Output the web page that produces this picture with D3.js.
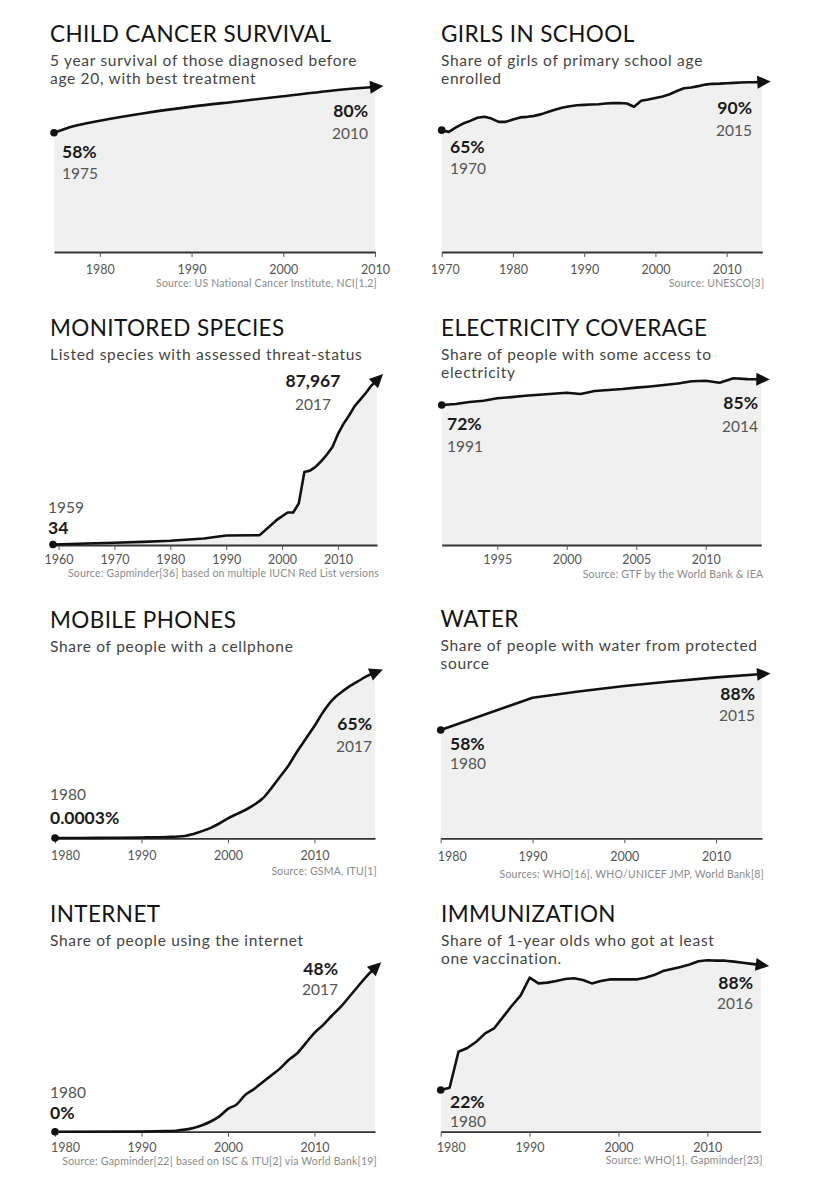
<!DOCTYPE html>
<html><head><meta charset="utf-8">
<script src="https://cdn.jsdelivr.net/npm/d3@7"></script>
<style>
body{margin:0;background:#fff}
svg{display:block}
text{font-family:Lato,"Open Sans",sans-serif}
</style>
</head><body>
<svg id="chart" width="823" height="1200"></svg>
<script>
// ---------------- DATA ----------------
const cancerYears  = [1975, 1977, 1980, 1985, 1990, 1995, 2000, 2005, 2010];
const cancerValues = [58, 61, 63.8, 67.5, 70.5, 73, 75.5, 78, 80];

const girlsYears  = [1970,1971,1972,1973,1974,1975,1976,1977,1978,1979,1980,1981,1982,1983,1984,1985,1986,1987,1988,1989,1990,1991,1992,1993,1994,1995,1996,1997,1998,1999,2000,2001,2002,2003,2004,2005,2006,2007,2008,2009,2010,2011,2012,2013,2014,2015];
const girlsValues = [65,64.1,66.4,68.4,69.8,71.4,71.9,71.0,69.3,69.3,70.5,71.6,71.9,72.4,73.3,74.5,75.7,76.7,77.4,77.9,78.1,78.3,78.4,78.8,79.0,79.1,78.8,77.1,80.2,80.9,81.7,82.4,83.6,85.3,86.7,87.1,87.8,88.6,89.0,89.1,89.3,89.5,89.7,89.8,89.8,90];

const speciesYears  = [1959,1965,1970,1975,1980,1986,1990,1996,1999,2001,2002,2003,2004,2005,2006,2007,2008,2009,2010,2011,2012,2013,2014,2015,2016,2017];
const speciesValues = [34,500,900,1400,2000,3200,4800,5000,13000,17100,17100,22000,38800,39500,41500,44500,48000,52000,59000,64500,69000,74000,77500,81000,85000,87967];

const electricityYears  = [1991,1992,1993,1994,1995,1996,1997,1998,1999,2000,2001,2002,2003,2004,2005,2006,2007,2008,2009,2010,2011,2012,2013,2014];
const electricityValues = [72,72.5,73.5,74.2,75.4,76.0,76.7,77.2,77.7,78.2,77.6,79.1,79.6,80.1,80.8,81.4,82.1,82.9,84.0,84.3,83.3,85.5,85.1,85];

const mobileYears  = [1980,1985,1990,1993,1995,1996,1997,1998,1999,2000,2001,2002,2003,2004,2005,2006,2007,2008,2009,2010,2011,2012,2013,2014,2015,2016,2017];
const mobileValues = [0.0003,0.05,0.2,0.4,0.8,1.6,2.7,4.0,5.7,7.7,9.4,11.0,13.0,15.5,19.5,24,28.5,34,39,44,49.5,54,57,59.5,61.5,63.5,65];

const waterYears  = [1980,1990,1995,2000,2005,2010,2015];
const waterValues = [58,75.3,78.6,81.6,84,86.2,88];

const internetYears  = [1980,1990,1993,1994,1995,1996,1997,1998,1999,2000,2001,2002,2003,2004,2005,2006,2007,2008,2009,2010,2011,2012,2013,2014,2015,2016,2017];
const internetValues = [0,0.05,0.2,0.3,0.6,1.1,1.9,3.0,4.5,6.7,8.0,10.8,12.5,14.5,16.5,18.5,21,23,26,29,31.3,34,36.5,39.5,42.5,45.5,48];

const immunYears  = [1980,1981,1982,1983,1984,1985,1986,1987,1988,1989,1990,1991,1992,1993,1994,1995,1996,1997,1998,1999,2000,2001,2002,2003,2004,2005,2006,2007,2008,2009,2010,2011,2012,2013,2014,2015,2016];
const immunValues = [22,23.2,42.2,44.2,47.5,51.9,54.5,60.5,66.5,72,81.3,78.3,78.7,79.6,80.6,81,80.1,78.3,79.6,80.4,80.4,80.4,80.4,81.3,82.7,84.8,85.9,87,88.3,90,90.5,90.3,90.3,89.8,89.2,88.6,88];

const tickYears1 = [1980,1990,2000,2010];
const tickYears2 = [1970,1980,1990,2000,2010];
const tickYears3 = [1960,1970,1980,1990,2000,2010];
const tickYears4 = [1995,2000,2005,2010];

const titles = ["CHILD CANCER SURVIVAL","GIRLS IN SCHOOL","MONITORED SPECIES","ELECTRICITY COVERAGE","MOBILE PHONES","WATER","INTERNET","IMMUNIZATION"];
const subtitles = [
  ["5 year survival of those diagnosed before","age 20, with best treatment"],
  ["Share of girls of primary school age","enrolled"],
  ["Listed species with assessed threat-status"],
  ["Share of people with some access to","electricity"],
  ["Share of people with a cellphone"],
  ["Share of people with water from protected","source"],
  ["Share of people using the internet"],
  ["Share of 1-year olds who got at least","one vaccination."]
];
const sources = [
  "Source: US National Cancer Institute, NCI[1,2]",
  "Source: UNESCO[3]",
  "Source: Gapminder[36] based on multiple IUCN Red List versions",
  "Source: GTF by the World Bank & IEA",
  "Source: GSMA, ITU[1]",
  "Sources: WHO[16], WHO/UNICEF JMP, World Bank[8]",
  "Source: Gapminder[22] based on ISC & ITU[2] via World Bank[19]",
  "Source: WHO[1], Gapminder[23]"
];

// ---------------- LAYOUT ----------------
const pct = v => d3.format(".4~f")(v) + "%";
const num = v => d3.format(",")(v);

const panels = [
  {years:cancerYears, values:cancerValues, ticks:tickYears1, fmt:pct, yMax:100,
   left:50, titleY:42, xr:[54,375], yr:[254,45], axisY:252, tickDy:22, firstShift:0, sourceY:287, curve:d3.curveMonotoneX,
   start:{x:62, vy:158, yy:179}, end:{x:368, vy:117, yy:139, anchor:"end"}},
  {years:girlsYears, values:girlsValues, ticks:tickYears2, fmt:pct, yMax:100,
   left:441, titleY:42, xr:[441.7,762.3], yr:[255.6,62.6], axisY:252, tickDy:22, firstShift:3, sourceY:287, curve:d3.curveLinear,
   start:{x:450, vy:153, yy:174}, end:{x:752, vy:114, yy:136, anchor:"end"}},
  {years:speciesYears, values:speciesValues, ticks:tickYears3, fmt:num, yMax:87967,
   left:50, titleY:336, xr:[53,377], yr:[544.5,380], axisY:545, tickDy:18.5, firstShift:5.5, sourceY:577, curve:d3.curveLinear,
   start:{x:48, vy:534, yy:512.5}, end:{x:313, vy:387, yy:410, anchor:"middle"}},
  {years:electricityYears, values:electricityValues, ticks:tickYears4, fmt:pct, yMax:100,
   left:441, titleY:336, xr:[441.7,761.3], yr:[547.6,349.6], axisY:545, tickDy:18.5, firstShift:0, sourceY:578, curve:d3.curveLinear,
   start:{x:447, vy:430, yy:452}, end:{x:758, vy:409, yy:432, anchor:"end"}},
  {years:mobileYears, values:mobileValues, ticks:tickYears1, fmt:pct, yMax:100,
   left:50, titleY:628, xr:[55,375], yr:[838,583.5], axisY:838.3, tickDy:22, firstShift:10, sourceY:875, curve:d3.curveMonotoneX,
   start:{x:50, vy:824, yy:800}, end:{x:372, vy:730, yy:752, anchor:"end"}},
  {years:waterYears, values:waterValues, ticks:tickYears1, fmt:pct, yMax:100,
   left:440.5, titleY:627, xr:[440.7,762], yr:[838.3,651.6], axisY:838.3, tickDy:23, firstShift:11, sourceY:878, curve:d3.curveLinear,
   start:{x:450, vy:750, yy:769}, end:{x:755, vy:700, yy:721, anchor:"end"}},
  {years:internetYears, values:internetValues, ticks:tickYears1, fmt:pct, yMax:100,
   left:50, titleY:922, xr:[55,375], yr:[1131.7,790.7], axisY:1131.7, tickDy:20, firstShift:10, sourceY:1165, curve:d3.curveMonotoneX,
   start:{x:50, vy:1119, yy:1097.5}, end:{x:338, vy:975, yy:995, anchor:"end"}},
  {years:immunYears, values:immunValues, ticks:tickYears1, fmt:pct, yMax:100,
   left:441, titleY:922, xr:[440.7,760.7], yr:[1131.7,942.3], axisY:1131.7, tickDy:20, firstShift:10, sourceY:1163.5, curve:d3.curveLinear,
   start:{x:450, vy:1108, yy:1127}, end:{x:753, vy:989, yy:1009, anchor:"end"}}
];

// ---------------- DRAW ----------------
const svg = d3.select("#chart");
svg.append("rect").attr("width",823).attr("height",1200).attr("fill","#fff");

const defs = svg.append("defs");
defs.append("marker")
  .attr("id","arrow").attr("markerUnits","userSpaceOnUse")
  .attr("viewBox","-6 -7 16 14").attr("refX",0).attr("refY",0)
  .attr("markerWidth",16).attr("markerHeight",14).attr("orient","auto")
  .append("path").attr("d","M-5,-6.5L8.5,0L-5,6.5Z").attr("fill","#111");

panels.forEach((p, i) => {
  const g = svg.append("g");
  const data = p.years.map((y, k) => ({year:y, value:p.values[k]}));
  const x = d3.scaleLinear().domain([p.years[0], p.years[p.years.length-1]]).range(p.xr);
  const y = d3.scaleLinear().domain([0, p.yMax]).range(p.yr);

  // title & subtitle
  g.append("text").attr("x", p.left).attr("y", p.titleY)
    .attr("font-size", 22.5).attr("fill", "#141414").attr("letter-spacing", 0.4).text(titles[i]);
  subtitles[i].forEach((s, k) => {
    g.append("text").attr("x", p.left).attr("y", p.titleY + 23.5 + k*18.7)
      .attr("font-size", 15.5).attr("letter-spacing", 0.7).attr("fill", "#444").text(s);
  });

  // area
  const area = d3.area().x(d => x(d.year)).y0(p.axisY).y1(d => y(d.value)).curve(p.curve);
  g.append("path").datum(data).attr("d", area).attr("fill", "#f0f0f0");

  // axis
  const axis = d3.axisBottom(x).tickValues(p.ticks).tickSize(5).tickSizeOuter(0).tickFormat(d3.format("d"));
  const ag = g.append("g").attr("transform", `translate(0,${p.axisY})`).call(axis);
  ag.select(".domain").attr("stroke", "#333").attr("stroke-width", 1.8);
  ag.selectAll(".tick line").attr("stroke", "#555").attr("stroke-width", 1);
  ag.selectAll(".tick text").attr("y", p.tickDy).attr("dy", 0)
    .attr("font-family", "Lato, sans-serif").attr("font-size", 12.5).attr("fill", "#555")
    .attr("dx", d => d === p.years[0] ? p.firstShift : 0);

  // line
  const line = d3.line().x(d => x(d.year)).y(d => y(d.value)).curve(p.curve);
  g.append("path").datum(data).attr("d", line).attr("fill", "none")
    .attr("stroke", "#111").attr("stroke-width", 2.6).attr("stroke-linejoin", "round")
    .attr("marker-end", "url(#arrow)");

  // start dot
  const first = data[0], last = data[data.length-1];
  g.append("circle").attr("cx", x(first.year)).attr("cy", y(first.value)).attr("r", 3.8).attr("fill", "#111");

  // labels
  g.append("text").attr("x", p.start.x).attr("y", p.start.vy).attr("font-size", 17.5).attr("font-weight", 700)
    .attr("fill", "#1a1a1a").text(p.fmt(first.value));
  g.append("text").attr("x", p.start.x).attr("y", p.start.yy).attr("font-size", 15.5)
    .attr("fill", "#555").text(first.year);
  g.append("text").attr("x", p.end.x).attr("y", p.end.vy).attr("font-size", 17.5).attr("font-weight", 700)
    .attr("text-anchor", p.end.anchor).attr("fill", "#1a1a1a").text(p.fmt(last.value));
  g.append("text").attr("x", p.end.x).attr("y", p.end.yy).attr("font-size", 15.5)
    .attr("text-anchor", p.end.anchor).attr("fill", "#555").text(last.year);

  // source
  g.append("text").attr("x", p.xr[1] + 2).attr("y", p.sourceY).attr("font-size", 10.5).attr("letter-spacing", 0.2)
    .attr("text-anchor", "end").attr("fill", "#8a8a8a").text(sources[i]);
});
</script>
</body></html>
